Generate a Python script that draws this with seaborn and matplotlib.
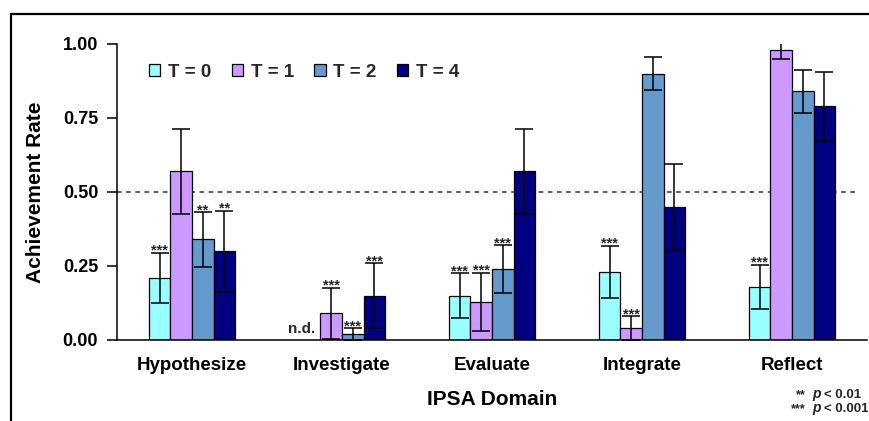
import numpy as np
import pandas as pd
import matplotlib
matplotlib.use("Agg")
import matplotlib.pyplot as plt
from matplotlib.lines import Line2D
import seaborn as sns

categories = ["Hypothesize", "Investigate", "Evaluate", "Integrate", "Reflect"]
series = ["T = 0", "T = 1", "T = 2", "T = 4"]
colors = ["#99FFFF", "#CC99FF", "#6699CC", "#000080"]

t0 = [0.21, np.nan, 0.15, 0.23, 0.18]
t1 = [0.57, 0.09, 0.13, 0.04, 0.98]
t2 = [0.34, 0.02, 0.24, 0.90, 0.84]
t4 = [0.30, 0.15, 0.57, 0.45, 0.79]

t0_err = [0.085, np.nan, 0.075, 0.088, 0.075]
t1_err = [0.144, 0.087, 0.098, 0.040, 0.030]
t2_err = [0.092, 0.020, 0.080, 0.057, 0.073]
t4_err = [0.137, 0.109, 0.144, 0.146, 0.117]

t0_sig = ["***", "n.d.", "***", "***", "***"]
t1_sig = ["", "***", "***", "***", ""]
t2_sig = ["**", "***", "***", "", ""]
t4_sig = ["**", "***", "", "", ""]

yticks = [0.0, 0.25, 0.50, 0.75, 1.00]
ytick_labels = ["0.00", "0.25", "0.50", "0.75", "1.00"]

values = [t0, t1, t2, t4]
errors = [t0_err, t1_err, t2_err, t4_err]
sigs = [t0_sig, t1_sig, t2_sig, t4_sig]

rows = []
for s, vals in zip(series, values):
    for c, v in zip(categories, vals):
        rows.append({"domain": c, "time": s, "rate": v})
df = pd.DataFrame(rows)

sns.set_theme(style="white")
plt.rcParams["font.family"] = ["Liberation Sans", "DejaVu Sans"]
plt.rcParams["font.weight"] = "bold"

fig = plt.figure(figsize=(8.7, 4.21), dpi=100)
ax = fig.add_axes([117 / 870, 1 - 340 / 421, 750 / 870, 296 / 421])

sns.barplot(data=df, x="domain", y="rate", hue="time", order=categories,
            hue_order=series, palette=colors, width=0.574, gap=0,
            edgecolor="black", linewidth=0.9, errorbar=None, saturation=1,
            ax=ax)

ax.set_xlim(-0.5, 4.5)
ax.set_ylim(0, 1.0)

# error bars & significance marks, positioned from the drawn bars
offsets = {}
for i, cont in enumerate(ax.containers[:len(series)]):
    for bar in cont:
        h = bar.get_height()
        if not np.isfinite(h):
            continue
        xc = bar.get_x() + bar.get_width() / 2
        ci = int(round(xc))
        offsets[i] = xc - ci
        v = values[i][ci]
        e = errors[i][ci]
        ax.errorbar(xc, v, yerr=e, fmt="none", ecolor="black", elinewidth=1.1,
                    capsize=6.4, capthick=1.1, zorder=5)
        lab = sigs[i][ci]
        if lab and lab != "n.d.":
            ax.annotate(lab, (xc, v + e), xytext=(0, -1.5), textcoords="offset points",
                        ha="center", va="baseline", fontsize=10.5, fontweight="bold",
                        annotation_clip=False)

for i in range(len(series)):
    for ci, lab in enumerate(sigs[i]):
        if lab == "n.d.":
            xc = ci + offsets.get(i, 0)
            ax.annotate(lab, (xc, 0), xytext=(-6, 5.2), textcoords="offset points",
                        ha="center", va="baseline", fontsize=11, fontweight="bold")

ax.axhline(0.5, xmin=0, xmax=0.987, color="#333333", lw=1.1, ls=(0, (3, 3)), zorder=0)

# axes styling
for side in ["top", "right"]:
    ax.spines[side].set_visible(False)
for side in ["left", "bottom"]:
    ax.spines[side].set_color("black")
    ax.spines[side].set_linewidth(1.1)

ax.set_yticks(yticks)
ax.set_yticklabels(ytick_labels)
ax.tick_params(axis="y", which="both", left=True, length=7.5, width=1.1, pad=6,
               labelsize=13, colors="black", direction="out")
ax.tick_params(axis="x", length=0, pad=12, labelsize=13.5, colors="black")
for t in ax.get_xticklabels() + ax.get_yticklabels():
    t.set_fontweight("bold")

ax.set_xlabel("IPSA Domain", fontsize=15, fontweight="bold", labelpad=12, color="black")
ax.set_ylabel("Achievement Rate", fontsize=15, fontweight="bold", labelpad=13, color="black")

handles, labels = ax.get_legend_handles_labels()
ax.legend(handles[:len(series)], labels[:len(series)], loc="center left",
          bbox_to_anchor=(0.043, 0.905), ncol=4, frameon=False,
          handlelength=0.6, handleheight=0.6, handletextpad=0.4,
          columnspacing=1.1, borderpad=0, borderaxespad=0,
          prop={"weight": "bold", "size": 13.5})

# footnote
x_star = 806 / 870
x_p = 812 / 870
x_rest = 824 / 870
fig.text(x_star, 1 - 398 / 421, "**", ha="right", va="baseline", fontsize=9, fontweight="bold")
fig.text(x_p, 1 - 398 / 421, "p", ha="left", va="baseline", fontsize=10,
         fontweight="bold", fontstyle="italic")
fig.text(x_rest, 1 - 398 / 421, "< 0.01", ha="left", va="baseline", fontsize=9.5, fontweight="bold")
fig.text(x_star, 1 - 412 / 421, "***", ha="right", va="baseline", fontsize=9, fontweight="bold")
fig.text(x_p, 1 - 412 / 421, "p", ha="left", va="baseline", fontsize=10,
         fontweight="bold", fontstyle="italic")
fig.text(x_rest, 1 - 412 / 421, "< 0.001", ha="left", va="baseline", fontsize=9.5, fontweight="bold")

# outer frame (top and left edges)
fy = 1 - 14 / 421
fx = 11 / 870
fig.add_artist(Line2D([fx, 1.0], [fy, fy], color="black", lw=1.6, transform=fig.transFigure))
fig.add_artist(Line2D([fx, fx], [0, fy], color="black", lw=1.6, transform=fig.transFigure))

fig.savefig("out.png", dpi=100)
